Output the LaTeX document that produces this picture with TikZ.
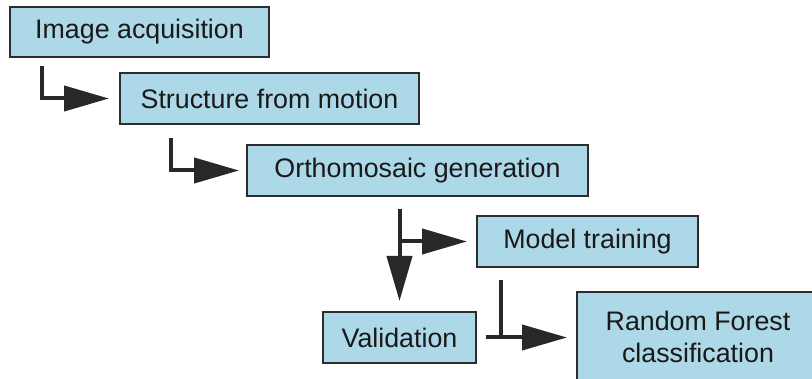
\documentclass[tikz,border=0pt]{standalone}
\usepackage{fontspec}
\setmainfont{Liberation Sans}
\usetikzlibrary{arrows.meta}
\definecolor{boxfill}{RGB}{173,216,232}
\definecolor{boxline}{RGB}{45,45,45}
\definecolor{arrcol}{RGB}{40,40,40}
\begin{document}
\begin{tikzpicture}[x=1pt,y=-1pt,
  stepbox/.style={draw=boxline, line width=2pt, fill=boxfill, inner sep=0pt,
    font=\fontsize{26.8}{32}\selectfont, align=center, text=black!90},
  arr/.style={draw=arrcol, line width=4pt, -{Triangle[length=45pt,width=25pt]}},
  plain/.style={draw=arrcol, line width=4pt}]
\useasboundingbox (0,0) rectangle (812,379);
\clip (0,0) rectangle (812,379);
\fill[white] (0,0) rectangle (812,379);
\node[stepbox, minimum width=259pt, minimum height=50pt] (b1) at (139.5,32) {Image acquisition};
\node[stepbox, minimum width=299pt, minimum height=51pt] (b2) at (269.5,98.5) {Structure from motion};
\node[stepbox, minimum width=341pt, minimum height=51pt] (b3) at (417.5,170.5) {Orthomosaic generation};
\node[stepbox, minimum width=221pt, minimum height=51pt] (mt) at (587.5,241.5) {Model training};
\node[stepbox, minimum width=153pt, minimum height=51pt] (val) at (399.5,337.5) {Validation};
\node[stepbox, minimum width=242pt, minimum height=96pt] (rf) at (698,340)
  {\raisebox{4pt}{\begin{tabular}{@{}c@{}}Random Forest\\classification\end{tabular}}};
% connectors
\draw[arr] ([xshift=33pt,yshift=-8pt]b1.south west) |- ([xshift=-10pt]b2.west);
\draw[arr] ([xshift=52pt,yshift=-13pt]b2.south west) |- ([xshift=-7pt]b3.west);
\draw[arr] ([yshift=-12pt]b3.south -| val.north) -- ([yshift=10pt]val.north);
\draw[arr] (val.north |- mt.west) -- ([xshift=-9pt]mt.west);
\draw[arr] ([xshift=9pt]val.east) -- ([xshift=-9pt]rf.west |- val.east);
\coordinate (j) at ([xshift=25pt]mt.south west |- val.east);
\draw[plain] ([xshift=25pt,yshift=-12pt]mt.south west) -- (j);
\end{tikzpicture}
\end{document}
